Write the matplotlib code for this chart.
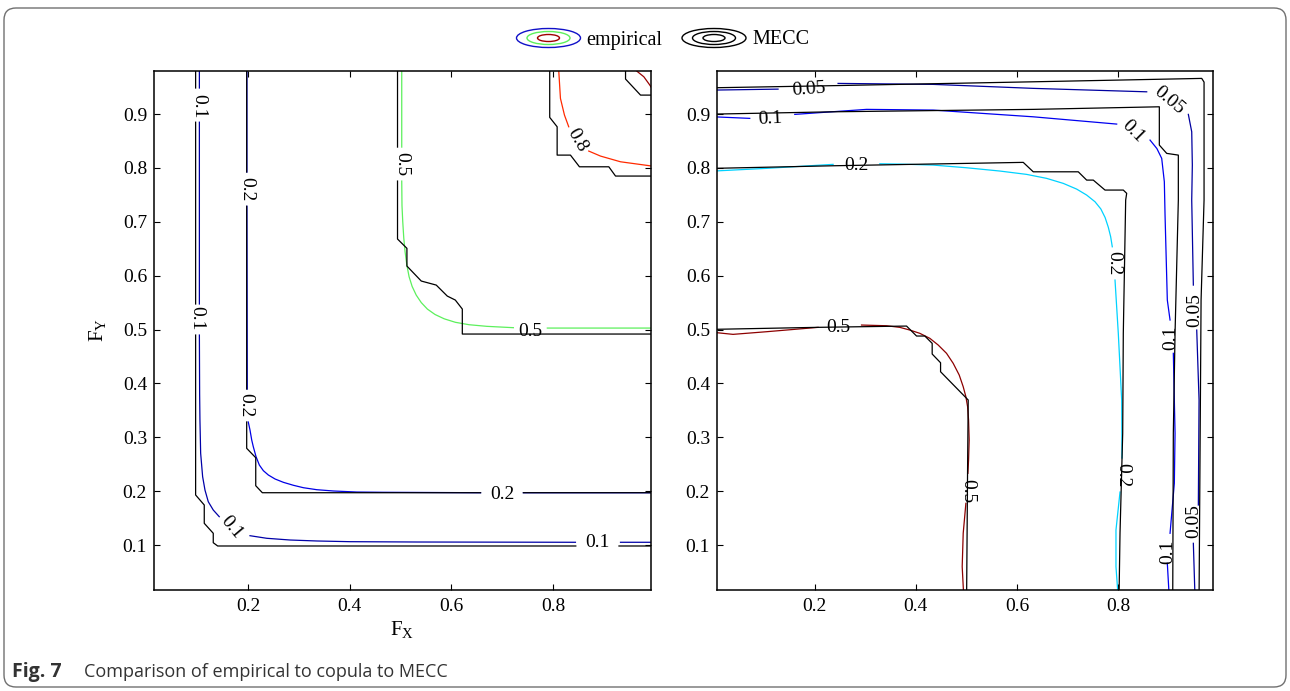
import numpy as np
import matplotlib
matplotlib.use("Agg")
import matplotlib.pyplot as plt
from matplotlib.patches import Ellipse, FancyBboxPatch

nan = np.nan

# ---------------- left panel: joint distribution contours ----------------
# empirical contours (NaN marks the inline-label gaps)
emp_L010_x = [0.1043, 0.1043, nan, 0.1043, 0.1043, nan, 0.1043, 0.1048, 0.1054, 0.1068, 0.1107, 0.1153, 0.1218,
              0.1316, 0.1434, nan, 0.2039, 0.2369, 0.2828, 0.3354, 0.401, 0.5324, 0.8443, nan, 0.933, 1.0]
emp_L010_y = [1.0, 0.9485, nan, 0.885, 0.5475, nan, 0.4898, 0.38, 0.3321, 0.2704, 0.2269, 0.2021, 0.1804,
              0.165, 0.1526, nan, 0.1173, 0.1125, 0.1093, 0.1075, 0.1062, 0.1056, 0.1051, nan, 0.1051, 0.1051]

emp_L020_x = [0.1978, 0.1978, nan, 0.1978, 0.1985, nan, 0.2005, 0.2039, 0.2073, 0.2104, 0.2158, 0.2223,
              0.2302, 0.2400, 0.2532, 0.2696, 0.2893, 0.3090, 0.3354, 0.3681, 0.4142, 0.4666, 0.6576, nan,
              0.7419, 1.0]
emp_L020_y = [1.0, 0.7925, nan, 0.7289, 0.3896, nan, 0.3284, 0.3135, 0.2949, 0.2825, 0.2640, 0.2485,
              0.2380, 0.2300, 0.2226, 0.2164, 0.2109, 0.2064, 0.2027, 0.2003, 0.1984, 0.1979, 0.1971, nan,
              0.1971, 0.1971]

emp_L050_x = [0.5025, 0.5025, nan, 0.5025, 0.5030, 0.5045, 0.5065, 0.5090, 0.5125, 0.5170, 0.5230, 0.5310,
              0.5410, 0.5530, 0.5680, 0.5860, 0.6080, 0.6350, 0.6700, 0.7222, nan, 0.789, 1.0]
emp_L050_y = [1.0, 0.8388, nan, 0.7757, 0.7300, 0.7000, 0.6700, 0.6450, 0.6200, 0.5980, 0.5800, 0.5640,
              0.5500, 0.5380, 0.5280, 0.5200, 0.5135, 0.5090, 0.5060, 0.5035, nan, 0.5028, 0.5028]

emp_L080_x = [0.8102, 0.8148, 0.8227, 0.8311, nan, 0.8705, 0.8936, 0.933, 0.9907, 1.0]
emp_L080_y = [1.0, 0.9292, 0.8982, 0.8765, nan, 0.8314, 0.8221, 0.8115, 0.8041, 0.8030]

emp_L090_x = [0.9600, 0.9626, 0.9789, 0.9907, 1.0]
emp_L090_y = [1.0, 0.9817, 0.9693, 0.9539, 0.940]

# MECC contours
mecc_L010_x = [0.0969, 0.0969, nan, 0.0969, 0.0969, nan, 0.0969, 0.0969, 0.1139, 0.1139, 0.1316, 0.1316, 0.1403,
               0.845, nan, 0.93, 1.0]
mecc_L010_y = [1.0, 0.9485, nan, 0.885, 0.5475, nan, 0.4898, 0.1929, 0.1743, 0.1403, 0.1218, 0.1043, 0.0982,
               0.0982, nan, 0.0982, 0.0982]

mecc_L020_x = [0.1974, 0.1974, nan, 0.1974, 0.1974, nan, 0.1974, 0.1974, 0.2152, 0.2152, 0.2282, 0.6576, nan,
               0.7419, 1.0]
mecc_L020_y = [1.0, 0.7925, nan, 0.7289, 0.3896, nan, 0.3284, 0.2795, 0.2621, 0.2101, 0.1971, 0.1971, nan,
               0.1971, 0.1971]

mecc_L050_x = [0.4942, 0.4942, nan, 0.4942, 0.4942, 0.5127, 0.5127, 0.5409, 0.5704, 0.5921, 0.6079, 0.6217,
               0.6217, 1.0]
mecc_L050_y = [1.0, 0.8388, nan, 0.7757, 0.6681, 0.6508, 0.6179, 0.5901, 0.5826, 0.5622, 0.5548, 0.5381,
               0.4917, 0.4917]

mecc_L080_x = [0.7937, 0.7937, 0.8083, 0.8083, 0.8345, 0.8522, 0.91, 0.9232, 1.0]
mecc_L080_y = [1.0, 0.8939, 0.8765, 0.8239, 0.8239, 0.8022, 0.8022, 0.785, 0.785]

mecc_L090_x = [0.9429, 0.9429, 0.9724, 1.0]
mecc_L090_y = [1.0, 0.9651, 0.9353, 0.9353]

left_lab_txt = ["0.1", "0.1", "0.1", "0.1", "0.2", "0.2", "0.2", "0.5", "0.5", "0.8"]
left_lab_x = [0.1034, 0.1000, 0.1679, 0.8871, 0.1974, 0.1960, 0.7015, 0.5029, 0.7557, 0.8477]
left_lab_y = [0.9153, 0.5214, 0.1325, 0.1047, 0.7608, 0.3600, 0.1947, 0.8073, 0.4973, 0.8518]
left_lab_rot = [-90, -90, -50, 0, -90, -90, 0, -90, 0, -60]

# ---------------- right panel: survival contours ----------------
emp_R005_x = [0.0, 0.1273, nan, 0.2461, 0.4343, 0.6323, 0.8568, nan, 0.9392, 0.9459, 0.9471, 0.9459, 0.9491, nan,
              0.9558, 0.9604, 0.959, nan, 0.9491, 0.9525]
emp_R005_y = [0.9446, 0.9464, nan, 0.957, 0.9552, 0.9478, 0.9414, nan, 0.8995, 0.8672, 0.8054, 0.7404, 0.5826, nan,
              0.4991, 0.3692, 0.1743, nan, 0.1032, 0.0]

emp_R010_x = [0.0, 0.0713, nan, 0.1604, 0.3024, 0.4343, 0.6323, 0.7974, nan, 0.8634, 0.8770, 0.8865, 0.8917,
              0.8931, 0.8976, 0.903, nan, 0.9095, 0.9129, 0.9115, 0.903, nan, 0.8976, 0.9016]
emp_R010_y = [0.895, 0.8921, nan, 0.8995, 0.9088, 0.9075, 0.895, 0.8815, nan, 0.8518, 0.8360, 0.8178, 0.7744,
              0.7126, 0.5548, 0.5177, nan, 0.4559, 0.3074, 0.2146, 0.1218, nan, 0.0661, 0.0]

emp_R020_x = [0.0, 0.1044, 0.2362, nan, 0.3287, 0.3683, 0.4343, 0.5004, 0.5663, 0.6192, 0.6588, 0.6917, 0.7182,
              0.7380, 0.7545, 0.7660, 0.7745, 0.7808, 0.7855, 0.7887, nan, 0.7941, 0.8006, 0.8073, 0.8079, nan,
              0.804, 0.796, 0.796, 0.8006]
emp_R020_y = [0.7943, 0.7993, 0.8067, nan, 0.8078, 0.8072, 0.8054, 0.8004, 0.7943, 0.7881, 0.7807, 0.7714, 0.7608,
              0.7497, 0.7373, 0.7240, 0.7080, 0.6900, 0.6723, 0.6537, nan, 0.5919, 0.493, 0.3692, 0.2615, nan,
              0.1984, 0.1279, 0.0598, 0.0]

emp_R050_x = [0.0, 0.0382, 0.1044, 0.2065, nan, 0.2925, 0.3420, 0.3683, 0.3881, 0.4079, 0.4277, 0.4442, 0.4607,
              0.4739, 0.4858, 0.4937, 0.4990, 0.5024, 0.5043, 0.5055, 0.5043, 0.5030, nan, 0.499, 0.4937, 0.4917,
              0.495]
emp_R050_y = [0.4948, 0.4911, 0.496, 0.5041, nan, 0.5084, 0.5071, 0.5041, 0.4991, 0.4930, 0.4837, 0.4713, 0.4559,
              0.4373, 0.4156, 0.3939, 0.3753, 0.3568, 0.3321, 0.2949, 0.2578, 0.2331, nan, 0.1774, 0.1218, 0.0598,
              0.0]

mecc_R005_x = [0.0, 0.2232, 0.6323, 0.9657, 0.9703, 0.9703, 0.9644, 0.9624, 0.9604]
mecc_R005_y = [0.9489, 0.9526, 0.96, 0.9663, 0.9594, 0.7404, 0.5548, 0.2764, 0.0]

mecc_R010_x = [0.0, 0.2362, 0.6323, 0.8818, 0.8818, 0.8964, 0.9194, 0.9194, 0.9129, 0.9095, 0.9083]
mecc_R010_y = [0.9, 0.9043, 0.9088, 0.9136, 0.8425, 0.8271, 0.8239, 0.7404, 0.493, 0.3079, 0.0]

mecc_R020_x = [0.0, 0.2362, 0.6125, 0.6323, 0.7214, 0.738, 0.7511, 0.7743, 0.8105, 0.8172, 0.8152, 0.8105,
               0.8093, 0.804, 0.802]
mecc_R020_y = [0.7993, 0.8041, 0.8104, 0.7929, 0.7929, 0.7775, 0.7775, 0.759, 0.759, 0.7529, 0.7404, 0.493,
               0.3074, 0.1218, 0.0]

mecc_R050_x = [0.0, 0.2034, 0.3816, 0.4014, 0.4178, 0.4323, 0.4323, 0.4489, 0.4489, 0.5004, 0.5036, 0.5024, 0.5004]
mecc_R050_y = [0.5004, 0.5041, 0.5065, 0.488, 0.488, 0.4744, 0.4546, 0.4384, 0.4217, 0.3723, 0.3692, 0.2454, 0.0]

right_lab_txt = ["0.05", "0.1", "0.2", "0.5", "0.05", "0.1", "0.2", "0.05", "0.1", "0.2", "0.05", "0.1", "0.5"]
right_lab_x = [0.1881, 0.1125, 0.2826, 0.2475, 0.9010, 0.8297, 0.7917, 0.9525, 0.9040, 0.8089, 0.9491, 0.8980, 0.5030]
right_lab_y = [0.9465, 0.8921, 0.8054, 0.5038, 0.9260, 0.8672, 0.6229, 0.5362, 0.4852, 0.2300, 0.1452, 0.0876, 0.2007]
right_lab_rot = [4, 3, 0, 0, -40, -45, -90, 90, 90, -90, 90, 90, -90]

x_ticks = [0.2, 0.4, 0.6, 0.8]
y_ticks = [0.1, 0.2, 0.3, 0.4, 0.5, 0.6, 0.7, 0.8, 0.9]

# ---------------- styling ----------------
SERIF = "Liberation Serif"
plt.rcParams["font.family"] = SERIF
plt.rcParams["mathtext.fontset"] = "custom"
plt.rcParams["mathtext.rm"] = SERIF
FS = 14
LW = 0.9

W, H = 1290, 691
fig = plt.figure(figsize=(W / 100, H / 100), dpi=100)

ax_l = fig.add_axes([154 / W, 1 - 590 / H, 497 / W, 519.3 / H])
ax_r = fig.add_axes([717 / W, 1 - 590 / H, 496 / W, 519.3 / H])


def style_axes(ax, xlim):
    ax.set_xlim(*xlim)
    ax.set_ylim(0.0165, 0.9806)
    ax.set_xticks(x_ticks)
    ax.set_yticks(y_ticks)
    ax.set_xticklabels([f"{t:g}" for t in x_ticks])
    ax.set_yticklabels([f"{t:g}" for t in y_ticks])
    ax.tick_params(direction="in", top=True, right=True, length=4, width=0.8,
                   labelsize=FS, pad=5)
    ax.tick_params(axis="x", pad=6)
    for s in ax.spines.values():
        s.set_linewidth(1.1)


def draw_labels(ax, txt, xs, ys, rots):
    for t, x, y, r in zip(txt, xs, ys, rots):
        ax.text(x, y, t, rotation=r, rotation_mode="anchor", ha="center", va="center",
                fontsize=FS, zorder=5)


# left panel
c_L010, c_L020, c_L050, c_L080, c_L090 = "#0000a8", "#0000e6", "#5cf05c", "#ff2a00", "#960000"
ax_l.plot(emp_L010_x, emp_L010_y, color=c_L010, lw=LW)
ax_l.plot(emp_L020_x, emp_L020_y, color=c_L020, lw=LW)
ax_l.plot(emp_L050_x, emp_L050_y, color=c_L050, lw=LW)
ax_l.plot(emp_L080_x, emp_L080_y, color=c_L080, lw=LW)
ax_l.plot(emp_L090_x, emp_L090_y, color=c_L090, lw=LW)
for xs, ys in [(mecc_L010_x, mecc_L010_y), (mecc_L020_x, mecc_L020_y), (mecc_L050_x, mecc_L050_y),
               (mecc_L080_x, mecc_L080_y), (mecc_L090_x, mecc_L090_y)]:
    ax_l.plot(xs, ys, color="black", lw=LW)
draw_labels(ax_l, left_lab_txt, left_lab_x, left_lab_y, left_lab_rot)
style_axes(ax_l, (0.015, 0.993))
ax_l.set_xlabel(r"F$_{\mathregular{X}}$", fontsize=FS + 1, labelpad=3)
ax_l.set_ylabel(r"F$_{\mathregular{Y}}$", fontsize=FS + 1, labelpad=10)

# right panel
c_R005, c_R010, c_R020, c_R050 = "#0000a0", "#0000f0", "#00d2ff", "#8c0000"
ax_r.plot(emp_R005_x, emp_R005_y, color=c_R005, lw=LW)
ax_r.plot(emp_R010_x, emp_R010_y, color=c_R010, lw=LW)
ax_r.plot(emp_R020_x, emp_R020_y, color=c_R020, lw=LW)
ax_r.plot(emp_R050_x, emp_R050_y, color=c_R050, lw=LW)
for xs, ys in [(mecc_R005_x, mecc_R005_y), (mecc_R010_x, mecc_R010_y), (mecc_R020_x, mecc_R020_y),
               (mecc_R050_x, mecc_R050_y)]:
    ax_r.plot(xs, ys, color="black", lw=LW)
draw_labels(ax_r, right_lab_txt, right_lab_x, right_lab_y, right_lab_rot)
style_axes(ax_r, (0.0065, 0.988))

# legend with concentric-ellipse keys
ly = 1 - 38 / H


def ellipse_key(cx, colors):
    for (w, h), c in zip([(64, 19), (43, 13), (22, 7)], colors):
        fig.patches.append(Ellipse((cx / W, ly), w / W, h / H, transform=fig.transFigure,
                                   fill=False, edgecolor=c, lw=1.0))


ellipse_key(548.5, ["#1010c8", "#5cf05c", "#a00000"])
ellipse_key(714, ["black", "black", "black"])
fig.text(586 / W, 1 - 44.5 / H, "empirical", fontsize=FS + 0.5, va="baseline", ha="left")
fig.text(752 / W, 1 - 44.5 / H, "MECC", fontsize=FS + 0.5, va="baseline", ha="left")

# caption and frame
fig.text(12 / W, 1 - 677 / H, "Fig. 7", fontsize=14, weight="bold", family="Open Sans",
         color="#333333", va="baseline")
fig.text(84 / W, 1 - 677 / H, "Comparison of empirical to copula to MECC", fontsize=13,
         family="Open Sans", color="#333333", va="baseline")
fig.patches.append(FancyBboxPatch((4, 4), 1282, 679, boxstyle="round,pad=0,rounding_size=12",
                                  transform=None, fill=False, edgecolor="#707070", lw=1.0))

fig.savefig("out.png", dpi=100)
